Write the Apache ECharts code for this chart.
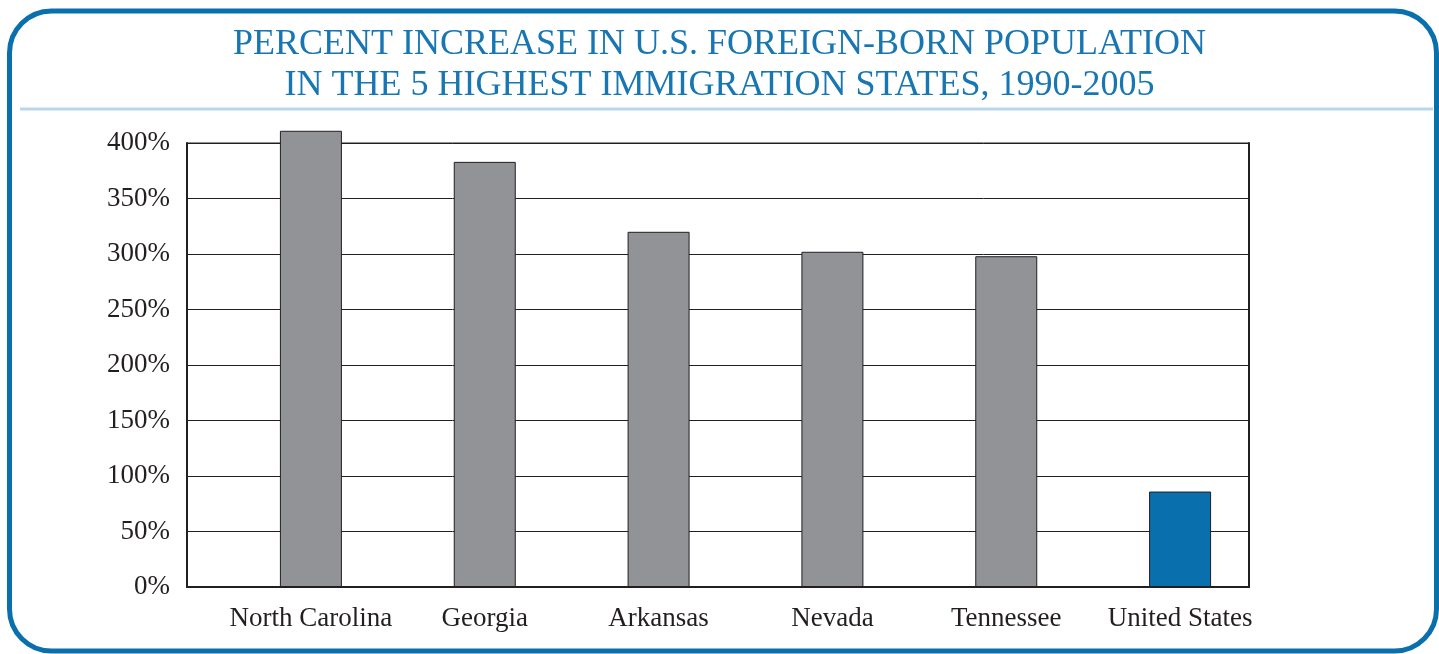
<!DOCTYPE html>
<html>
<head>
<meta charset="utf-8">
<script src="https://cdn.jsdelivr.net/npm/echarts@6/dist/echarts.min.js"></script>
<style>
  html, body { margin: 0; padding: 0; background: #fff; }
  #main { width: 1439px; height: 654px; }
</style>
</head>
<body>
<div id="main"></div>
<script>
var states = ['North Carolina', 'Georgia', 'Arkansas', 'Nevada', 'Tennessee', 'United States'];
var pctIncrease = [411, 383, 320, 302, 298, 86];
var yTicks = { min: 0, max: 400, step: 50 };

var blue = '#0a6fad';
var gray = '#929397';
var ink = '#231f20';
var serif = '"Liberation Serif", "DejaVu Serif", serif';

var myChart = echarts.init(document.getElementById('main'));

var option = {
    animation: false,
    title: {
        text: 'PERCENT INCREASE IN U.S. FOREIGN-BORN POPULATION\nIN THE 5 HIGHEST IMMIGRATION STATES, 1990-2005',
        left: 'center',
        top: 19,
        textStyle: {
            color: '#1877b3',
            fontFamily: serif,
            fontWeight: 'normal',
            fontSize: 36,
            lineHeight: 41
        }
    },
    graphic: [
        {   // rounded frame
            type: 'rect',
            shape: { x: 9.5, y: 11, width: 1427, height: 640, r: 42 },
            style: { fill: 'none', stroke: blue, lineWidth: 5 }
        },
        {   // rule under the title
            type: 'line',
            shape: { x1: 20, y1: 109, x2: 1433, y2: 109 },
            style: { stroke: '#b9d7ea', lineWidth: 3 }
        }
    ],
    grid: [
        // frame + gridlines
        { left: 187, top: 143, width: 1062, height: 444, show: true, borderColor: ink, borderWidth: 1 },
        // bars
        { left: 224, top: 143, width: 1043, height: 444 }
    ],
    xAxis: [
        {
            gridIndex: 0,
            type: 'category',
            data: [''],
            axisLine: { lineStyle: { color: ink, width: 2 } },
            axisTick: { show: false },
            axisLabel: { show: false }
        },
        {
            gridIndex: 1,
            type: 'category',
            data: states,
            axisLine: { show: false },
            axisTick: { show: false },
            axisLabel: {
                interval: 0,
                color: ink,
                fontFamily: serif,
                fontSize: 27,
                margin: 18
            }
        }
    ],
    yAxis: [
        {
            gridIndex: 0,
            type: 'value',
            min: yTicks.min,
            max: yTicks.max,
            interval: yTicks.step,
            axisLine: { show: true, lineStyle: { color: ink, width: 2 } },
            axisTick: { show: false },
            axisLabel: {
                formatter: '{value}%',
                color: ink,
                fontFamily: serif,
                fontSize: 27,
                margin: 17
            },
            splitLine: { lineStyle: { color: ink, width: 1 } }
        },
        {
            gridIndex: 0,
            type: 'value',
            position: 'right',
            min: yTicks.min,
            max: yTicks.max,
            axisLine: { show: true, lineStyle: { color: ink, width: 2 } },
            axisTick: { show: false },
            axisLabel: { show: false },
            splitLine: { show: false }
        },
        {
            gridIndex: 1,
            type: 'value',
            min: yTicks.min,
            max: yTicks.max,
            show: false
        }
    ],
    series: [
        {
            type: 'bar',
            xAxisIndex: 1,
            yAxisIndex: 2,
            data: pctIncrease,
            barWidth: 62,
            clip: false,
            itemStyle: {
                color: function (p) {
                    return p.name === 'United States' ? blue : gray;
                },
                borderColor: ink,
                borderWidth: 1
            }
        }
    ]
};

myChart.setOption(option);
</script>
</body>
</html>
